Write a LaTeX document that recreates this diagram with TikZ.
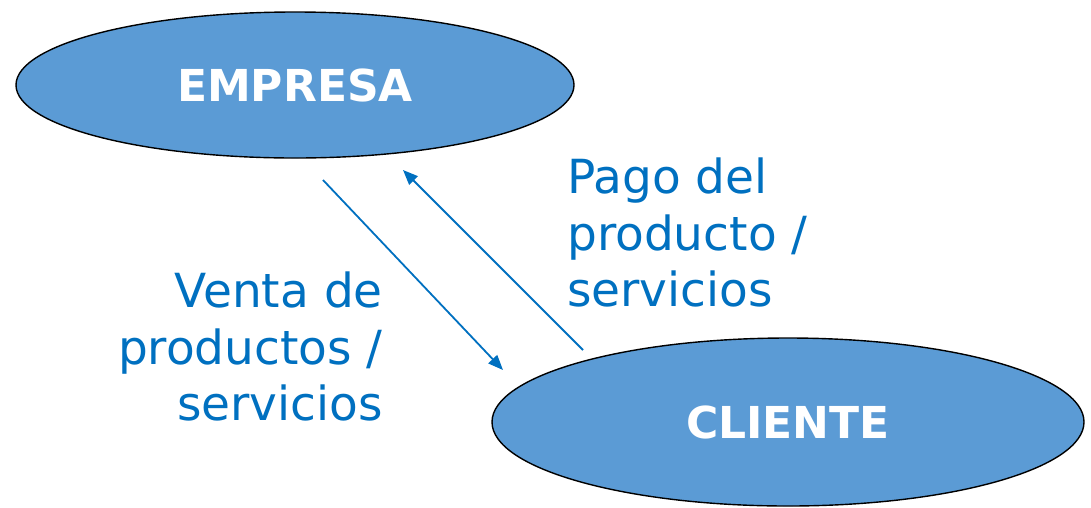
\documentclass[tikz,border=0pt]{standalone}
\usepackage{fontspec}
\setmainfont{DejaVu Sans}
\usetikzlibrary{shapes.geometric,arrows.meta}
\definecolor{ellfill}{RGB}{91,155,213}
\definecolor{txtblue}{RGB}{0,112,192}
\tikzset{
  actor/.style={ellipse, draw=black, line width=1.4pt, fill=ellfill, inner sep=0pt,
    text=white, font=\fontsize{44}{50}\selectfont\bfseries},
  flow/.style={draw=txtblue, line width=1.8pt, -{Triangle[length=15pt,width=12pt]}},
  lbl/.style={text=txtblue, inner sep=0pt, font=\fontsize{47}{56.5}\selectfont}
}
\begin{document}
\begin{tikzpicture}[x=1pt,y=-1pt]
\useasboundingbox (0,0) rectangle (1091,507);
\node[actor, minimum width=558pt, minimum height=146pt] (emp) at (295,85) {EMPRESA};
\node[actor, minimum width=592pt, minimum height=168pt] (cli) at (788,422) {CLIENTE};
\coordinate (a1s) at (323,180);
\coordinate (a1e) at (503,370);
\coordinate (a2s) at (583,350);
\coordinate (a2e) at (403,170);
\draw[flow] (a1s) -- (a1e);
\draw[flow] (a2s) -- (a2e);
\node[lbl, anchor=north east, align=right] (venta) at (383,272) {Venta de\\productos /\\servicios};
\node[lbl, anchor=north west, align=left] (pago) at (567,158) {Pago del\\producto /\\servicios};
\end{tikzpicture}
\end{document}
